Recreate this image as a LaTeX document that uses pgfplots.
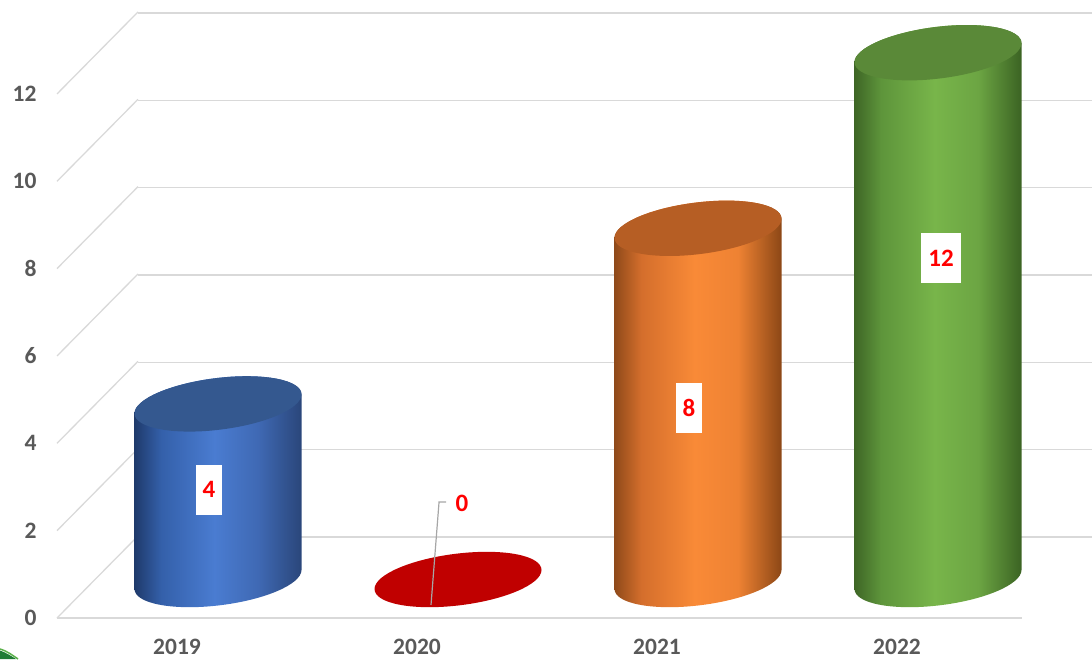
\documentclass[border=0pt]{standalone}
\usepackage{pgfplots}
\pgfplotsset{compat=1.18}
\usepackage{fontspec}
\setmainfont{Carlito}

\definecolor{gridc}{HTML}{D9D9D9}
\definecolor{txtc}{HTML}{595959}
\definecolor{labred}{HTML}{FF0000}
\definecolor{leader}{HTML}{A6A6A6}
% blue
\definecolor{bA}{HTML}{1F3A6B}\definecolor{bB}{HTML}{3460AA}\definecolor{bC}{HTML}{4A7CD1}
\definecolor{bD}{HTML}{3F69B4}\definecolor{bE}{HTML}{2A467A}\definecolor{bTop}{HTML}{34588F}
% orange
\definecolor{oA}{HTML}{8F4A1A}\definecolor{oB}{HTML}{D46E2C}\definecolor{oC}{HTML}{F98A37}
\definecolor{oD}{HTML}{EE8233}\definecolor{oE}{HTML}{8C4716}\definecolor{oTop}{HTML}{B65E24}
% green
\definecolor{gA}{HTML}{3E6626}\definecolor{gB}{HTML}{5E953B}\definecolor{gC}{HTML}{78B54A}
\definecolor{gD}{HTML}{6CA543}\definecolor{gE}{HTML}{3B6323}\definecolor{gTop}{HTML}{5A8938}
\definecolor{redc}{HTML}{C00000}
\definecolor{deco}{HTML}{1E7B34}
\definecolor{deco2}{HTML}{5BB04A}

\pgfdeclarehorizontalshading{bluecyl}{100bp}{color(0bp)=(bA); color(25bp)=(bA); color(33bp)=(bB); color(49bp)=(bC); color(62bp)=(bD); color(75bp)=(bE); color(100bp)=(bE)}
\pgfdeclarehorizontalshading{orangecyl}{100bp}{color(0bp)=(oA); color(25bp)=(oA); color(33bp)=(oB); color(49bp)=(oC); color(62bp)=(oD); color(75bp)=(oE); color(100bp)=(oE)}
\pgfdeclarehorizontalshading{greencyl}{100bp}{color(0bp)=(gA); color(25bp)=(gA); color(33bp)=(gB); color(49bp)=(gC); color(62bp)=(gD); color(75bp)=(gE); color(100bp)=(gE)}

\pgfdeclareplotmark{nothing}{}
\pgfdeclareplotmark{cyltop}{%
  \pgfpathellipse{\pgfpointorigin}{\pgfpoint{83.5pt}{9.5pt}}{\pgfpoint{0pt}{26pt}}\pgfusepathqfill}

% cylinder drawn at the data point (top centre); height from the data value (meta)
\newcommand{\cylinder}[2]{%
  \pgfscope
  \pgfmathsetmacro\cylh{\pgfplotspointmeta*43.9}%
  \pgfpathmoveto{\pgfpoint{-83.5pt}{-9.5pt-\cylh pt}}%
  \pgfpatharcaxes{180}{360}{\pgfpoint{83.5pt}{9.5pt}}{\pgfpoint{0pt}{26pt}}%
  \pgfpathlineto{\pgfpoint{83.5pt}{9.5pt}}%
  \pgfpatharcaxes{0}{180}{\pgfpoint{83.5pt}{9.5pt}}{\pgfpoint{0pt}{26pt}}%
  \pgfpathclose
  \pgfshadepath{#1}{0}%
  \pgfusepath{discard}%
  \pgfpathellipse{\pgfpointorigin}{\pgfpoint{83.5pt}{9.5pt}}{\pgfpoint{0pt}{26pt}}%
  \pgfsetfillcolor{#2}\pgfusepath{fill}%
  \endpgfscope}

\pgfplotsset{cyl/.style 2 args={scatter, only marks, mark=nothing, point meta=explicit symbolic,
  scatter/@pre marker code/.code={\cylinder{#1}{#2}},
  scatter/@post marker code/.code={}}}

\newcommand{\tickfont}{\fontsize{23.5}{27}\selectfont\bfseries}
\newcommand{\labfont}{\fontsize{25}{29}\selectfont\bfseries}

\begin{document}
\begin{tikzpicture}[x=1pt,y=1pt]
\path[use as bounding box] (0,0) rectangle (1092,659);
\clip (0,0) rectangle (1092,659);

% back wall
\begin{axis}[at={(258pt,122pt)}, anchor=origin, x=240pt, y=43.67pt,
  xmin=-0.5, xmax=3.6, ymin=0, ymax=12,
  ytick={0,2,...,12}, yticklabels={}, xtick=\empty,
  ymajorgrids, grid style={gridc, line width=1.3pt},
  axis line style={draw=none}, tick style={draw=none}, clip=false]
\end{axis}

% front plane
\begin{axis}[at={(177pt,41pt)}, anchor=origin, x=240pt, y=43.67pt,
  xmin=-0.5, xmax=3.52, ymin=0, ymax=12,
  ytick={0,2,4,6,8,10,12}, yticklabels={0,2,4,6,8,10,12},
  xtick={0,1,2,3}, xticklabels={2019,2020,2021,2022},
  /pgf/number format/assume math mode=true,
  yticklabel style={font=\tickfont, text=txtc, anchor=east, xshift=-17pt},
  xticklabel style={font=\tickfont, text=txtc, anchor=north, inner sep=0pt, yshift=-20.5pt},
  axis line style={draw=none}, tick style={draw=none}, clip=false]
\addplot[gridc, line width=1.3pt] coordinates {(-0.5,0) (3.52,0)};
\addplot[gridc, line width=1.3pt] coordinates {(-0.5,0) (-0.1625,1.878)};
\addplot[gridc, line width=1.3pt] coordinates {(-0.5,2) (-0.1625,3.878)};
\addplot[gridc, line width=1.3pt] coordinates {(-0.5,4) (-0.1625,5.878)};
\addplot[gridc, line width=1.3pt] coordinates {(-0.5,6) (-0.1625,7.878)};
\addplot[gridc, line width=1.3pt] coordinates {(-0.5,8) (-0.1625,9.878)};
\addplot[gridc, line width=1.3pt] coordinates {(-0.5,10) (-0.1625,11.878)};
\addplot[gridc, line width=1.3pt] coordinates {(-0.5,12) (-0.1625,13.878)};
\end{axis}

% cylinders (mid depth)
\begin{axis}[at={(218pt,79.5pt)}, anchor=origin, x=240pt, y=43.9pt,
  xmin=-0.5, xmax=3.5, ymin=0, ymax=12, hide axis, clip=false]
\addplot[cyl={bluecyl}{bTop}] coordinates {(0,4) [4]};
\addplot[only marks, mark=cyltop, mark options={fill=redc, draw=none}] coordinates {(1,0)};
\addplot[cyl={orangecyl}{oTop}] coordinates {(2,8) [8]};
\addplot[cyl={greencyl}{gTop}] coordinates {(3,12) [12]};
\end{axis}

% leader line and data labels (same frame as cylinders)
\begin{axis}[at={(218pt,79.5pt)}, anchor=origin, x=240pt, y=43.9pt,
  xmin=-0.5, xmax=3.5, ymin=0, ymax=12, hide axis, clip=false]
\addplot[leader, line width=1.2pt] coordinates {(0.8875,-0.58) (0.921,1.765) (0.95,1.765)};
\addplot[only marks, mark=none, point meta=explicit symbolic, nodes near coords,
  nodes near coords style={anchor=center, fill=white, text=labred, font=\labfont,
  inner xsep=7pt, minimum height=50pt}]
  coordinates {(-0.0375,2.05)[4] (1.9625,3.9)[8] (3.0125,7.32)[12]};
\addplot[only marks, mark=none, point meta=explicit symbolic, nodes near coords,
  nodes near coords style={anchor=center, text=labred, font=\labfont}]
  coordinates {(1.0167,1.74)[0]};
\end{axis}

\fill[deco] (0,8.5) .. controls (7,6) and (11,3) .. (16,0) -- (0,0) -- cycle;
\draw[deco2, line width=1.5pt] (0,10) .. controls (8,7.5) and (12,4) .. (18,0);
\end{tikzpicture}
\end{document}
